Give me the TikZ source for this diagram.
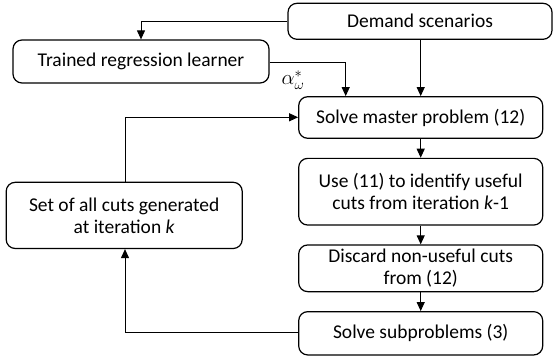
\documentclass[tikz,border=0pt]{standalone}
\usepackage{fontspec}
\setmainfont{Carlito}
\usetikzlibrary{arrows.meta}
\begin{document}
\begin{tikzpicture}[x=1pt,y=-1pt,
  box/.style={draw, line width=1.2pt, rounded corners=9pt, align=center,
    font=\fontsize{19.5}{22}\selectfont, inner sep=0pt},
  conn/.style={line width=1pt, -{Triangle[length=9pt,width=8pt]}}]
\useasboundingbox (0,0) rectangle (553,358);
% boxes (corner to corner sizes)
\node[box, minimum width=264pt, minimum height=36pt] (demand) at (420,21.3) {Demand scenarios};
\node[box, minimum width=256pt, minimum height=43pt] (learner) at (141,61.5) {Trained regression learner};
\node[box, minimum width=244pt, minimum height=41.6pt] (master) at (420.7,117.5) {Solve master problem (12)};
\node[box, minimum width=244pt, minimum height=66.7pt] (use) at (420.7,191.7) {Use (11) to identify useful\\cuts from iteration \textit{k}-1};
\node[box, minimum width=244pt, minimum height=46.7pt] (discard) at (420.7,268.3) {Discard non-useful cuts\\from (12)};
\node[box, minimum width=244pt, minimum height=43.3pt] (sub) at (420.7,333.3) {Solve subproblems (3)};
\node[box, minimum width=236pt, minimum height=66.2pt] (cuts) at (124.2,215.4) {Set of all cuts generated\\at iteration \textit{k}};
% connectors
\draw[conn] (demand.west) -| (learner.north);
\draw[conn] (demand.south -| master.north) -- (master.north);
\coordinate (lj) at (345.7,62.3);
\draw[conn] (learner.east |- lj) -| (master.north -| lj);
\node[font=\fontsize{21}{24}\selectfont] (alpha) at (293,80) {$\alpha^{*}_{\omega}$};
\draw[conn] (master.south) -- (use.north);
\draw[conn] (use.south) -- (discard.north);
\draw[conn] (discard.south) -- (sub.north);
\coordinate (bend) at (125,332.3);
\draw[conn] (sub.west |- bend) -| (cuts.south -| bend);
\coordinate (top) at (125,117.3);
\draw[conn] (cuts.north -| top) |- (master.west |- top);
\end{tikzpicture}
\end{document}
